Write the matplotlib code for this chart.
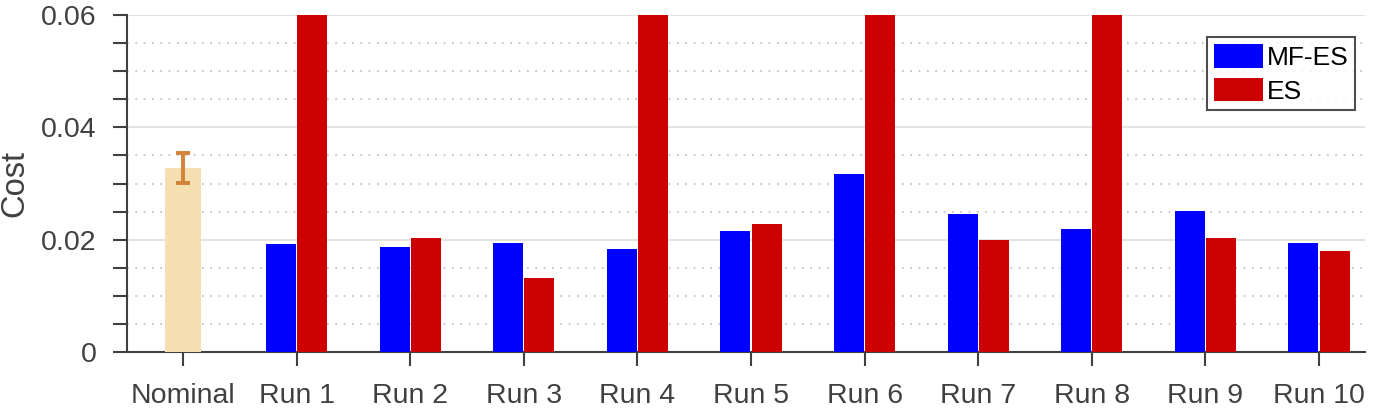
import matplotlib
matplotlib.use("Agg")
import matplotlib.pyplot as plt
import numpy as np
from matplotlib.ticker import MultipleLocator, FixedLocator

plt.rcParams['font.family'] = ['Liberation Sans', 'DejaVu Sans']

categories = ["Nominal", "Run 1", "Run 2", "Run 3", "Run 4", "Run 5",
              "Run 6", "Run 7", "Run 8", "Run 9", "Run 10"]
nominal_value = 0.0328
nominal_err = 0.0027
mfes = [0.0192, 0.0187, 0.0194, 0.0183, 0.0215, 0.0317, 0.0246, 0.0219, 0.0251, 0.0194]
es = [0.08, 0.0203, 0.0132, 0.08, 0.0228, 0.08, 0.0199, 0.08, 0.0203, 0.0180]

fig = plt.figure(figsize=(13.83, 4.08), dpi=100)
ax = fig.add_axes([127/1383, 56/408, 1238/1383, 337/408])

x = np.arange(1, len(categories) + 1)
w = 0.264
gap = 0.009
ax.bar(x[0], nominal_value, width=0.31, color='#F5DEB0', zorder=3)
ax.errorbar(x[0], nominal_value, yerr=nominal_err, color='#D4843A',
            elinewidth=2.8, capsize=4.7, capthick=2.8, zorder=4, fmt='none')
ax.bar(x[1:] - w/2 - gap/2, mfes, width=w, color='#0000FF', label='MF-ES', zorder=3)
ax.bar(x[1:] + w/2 + gap/2, es, width=w, color='#CC0000', label='ES', zorder=3)

ax.set_xlim(1 - 56/113.6, 11 + 46/113.6)
ax.set_ylim(0, 0.06)
ax.set_xticks(x)
ax.set_xticklabels(categories)
ax.yaxis.set_major_locator(FixedLocator([0, 0.02, 0.04, 0.06]))
ax.set_yticklabels(["0", "0.02", "0.04", "0.06"])
ax.yaxis.set_minor_locator(MultipleLocator(0.005))

ax.grid(True, which='major', axis='y', color='#E3E3E3', linewidth=1.5, zorder=0)
ax.grid(True, which='minor', axis='y', color='#BBBBBB', linestyle=(0, (1, 4)), linewidth=1.2, zorder=0)
ax.set_axisbelow(True)

for s in ['top', 'right']:
    ax.spines[s].set_visible(False)
for s in ['left', 'bottom']:
    ax.spines[s].set_color('#404040')
    ax.spines[s].set_linewidth(1.5)

ax.tick_params(axis='both', which='both', direction='out', color='#404040',
               labelcolor='#404040', labelsize=20.5, width=1.5, length=10)
ax.tick_params(axis='y', which='minor', length=10)
ax.tick_params(axis='x', pad=12)
ax.tick_params(axis='y', pad=12)

fig.text(15/1383, 1 - 184/408, 'Cost', rotation=90, ha='center', va='center',
         fontsize=23.5, color='#404040')

leg = ax.legend(loc='upper right', bbox_to_anchor=(1 - 10/1238, 1 - 22/337), fontsize=19,
                frameon=True, fancybox=False, edgecolor='#222222',
                handlelength=1.86, handleheight=1.02, borderpad=0.25,
                labelspacing=0.3, handletextpad=0.15, borderaxespad=0)
leg.get_frame().set_linewidth(1.5)
for t in leg.get_texts():
    t.set_color('black')

fig.savefig('out.png', dpi=100)
